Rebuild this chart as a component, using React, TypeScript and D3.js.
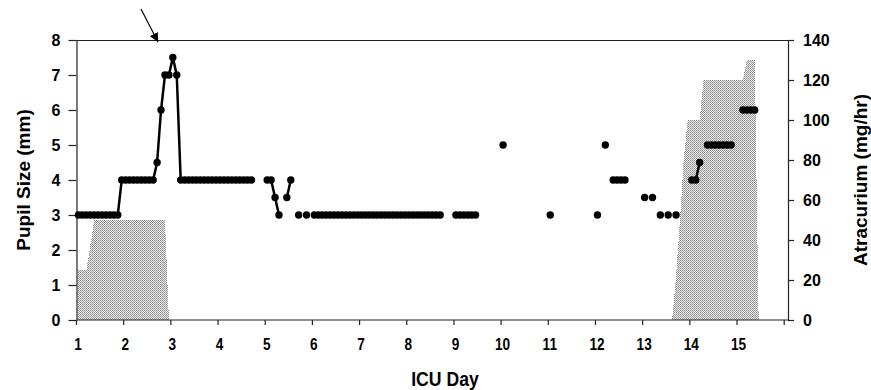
import React, { useEffect, useRef } from "react";
import * as d3 from "d3";

// pupil size (mm), one reading per 2 hours, 12 per ICU day; null = no reading
const _ = null;
const PUPIL_BY_DAY: (number | null)[][] = [
  [3, 3, 3, 3, 3, 3, 3, 3, 3, 3, 3, 4],
  [4, 4, 4, 4, 4, 4, 4, 4, 4.5, 6, 7, 7],
  [7.5, 7, 4, 4, 4, 4, 4, 4, 4, 4, 4, 4],
  [4, 4, 4, 4, 4, 4, 4, 4, 4, _, _, _],
  [4, 4, 3.5, 3, _, 3.5, 4, _, 3, _, 3, _],
  [3, 3, 3, 3, 3, 3, 3, 3, 3, 3, 3, 3],
  [3, 3, 3, 3, 3, 3, 3, 3, 3, 3, 3, 3],
  [3, 3, 3, 3, 3, 3, 3, 3, 3, _, _, _],
  [3, 3, 3, 3, 3, 3, _, _, _, _, _, _],
  [5, _, _, _, _, _, _, _, _, _, _, _],
  [3, _, _, _, _, _, _, _, _, _, _, _],
  [3, _, 5, _, 4, 4, 4, 4, _, _, _, _],
  [3.5, _, 3.5, _, 3, _, 3, _, 3, _, _, _],
  [4, 4, 4.5, _, 5, 5, 5, 5, 5, 5, 5, _],
  [_, 6, 6, 6, 6, _, _, _, _, _, _, _],
];

// atracurium infusion (mg/hr), same 2-hour slots
const ATRACURIUM_BY_DAY: number[][] = [
  [25, 25, 25, 37, 50, 50, 50, 50, 50, 50, 50, 50],
  [50, 50, 50, 50, 50, 50, 50, 50, 50, 50, 50, 0],
  [0, 0, 0, 0, 0, 0, 0, 0, 0, 0, 0, 0],
  [0, 0, 0, 0, 0, 0, 0, 0, 0, 0, 0, 0],
  [0, 0, 0, 0, 0, 0, 0, 0, 0, 0, 0, 0],
  [0, 0, 0, 0, 0, 0, 0, 0, 0, 0, 0, 0],
  [0, 0, 0, 0, 0, 0, 0, 0, 0, 0, 0, 0],
  [0, 0, 0, 0, 0, 0, 0, 0, 0, 0, 0, 0],
  [0, 0, 0, 0, 0, 0, 0, 0, 0, 0, 0, 0],
  [0, 0, 0, 0, 0, 0, 0, 0, 0, 0, 0, 0],
  [0, 0, 0, 0, 0, 0, 0, 0, 0, 0, 0, 0],
  [0, 0, 0, 0, 0, 0, 0, 0, 0, 0, 0, 0],
  [0, 0, 0, 0, 0, 0, 0, 0, 22, 50, 82, 100],
  [100, 100, 100, 120, 120, 120, 120, 120, 120, 120, 120, 120],
  [120, 120, 130, 130, 130, 0, 0, 0, 0, 0, 0, 0],
];

const DAY_LABELS = ["1", "2", "3", "4", "5", "6", "7", "8", "9", "10", "11", "12", "13", "14", "15"];
const PUPIL_TICKS = [0, 1, 2, 3, 4, 5, 6, 7, 8];
const ATRA_TICKS = [0, 20, 40, 60, 80, 100, 120, 140];
const SLOTS_PER_DAY = 12;

const W = 871;
const H = 390;
const BOLD = "'Liberation Sans', Arial, Helvetica, sans-serif";

export default function App() {
  const svgRef = useRef<SVGSVGElement | null>(null);

  useEffect(() => {
    if (!svgRef.current) return;
    const svg = d3.select(svgRef.current);
    svg.selectAll("*").remove();

    const pupil = PUPIL_BY_DAY.flat().map((v, i) => ({ i, v }));
    const atra = ATRACURIUM_BY_DAY.flat().map((v, i) => ({ i, v }));
    const nSlots = DAY_LABELS.length * SLOTS_PER_DAY;

    const left = 76.5;
    const right = 788;
    const top = 40;
    const bottom = 320;

    const x = d3.scaleLinear().domain([0, nSlots]).range([left, 784.2]);
    const cx = (i: number) => x(i + 0.5);
    const yL = d3.scaleLinear().domain([0, 8]).range([bottom, top]);
    const yR = d3.scaleLinear().domain([0, 140]).range([bottom, top]);

    // stipple pattern for the infusion area
    const defs = svg.append("defs");
    const pat = defs
      .append("pattern")
      .attr("id", "stipple")
      .attr("width", 2)
      .attr("height", 2)
      .attr("patternUnits", "userSpaceOnUse");
    pat.append("rect").attr("width", 2).attr("height", 2).attr("fill", "#ececec");
    pat.append("rect").attr("width", 1).attr("height", 1).attr("fill", "#8c8c8c");
    pat.append("rect").attr("x", 1).attr("y", 1).attr("width", 1).attr("height", 1).attr("fill", "#9c9c9c");

    const area = d3
      .area<{ i: number; v: number }>()
      .x((d) => cx(d.i))
      .y0(yR(0))
      .y1((d) => yR(d.v));

    svg
      .append("path")
      .datum(atra)
      .attr("d", area)
      .attr("fill", "url(#stipple)")
      .attr("shape-rendering", "crispEdges");

    // frame: top line
    svg
      .append("line")
      .attr("x1", left)
      .attr("x2", right)
      .attr("y1", top + 0.5)
      .attr("y2", top + 0.5)
      .attr("stroke", "#222")
      .attr("stroke-width", 1.2);

    // left axis
    const gL = svg.append("g").attr("transform", `translate(${left},0)`);
    gL.call(
      d3
        .axisLeft(yL)
        .tickValues(PUPIL_TICKS)
        .tickSize(8)
        .tickPadding(8)
        .tickSizeOuter(0)
    );

    // right axis
    const gR = svg.append("g").attr("transform", `translate(${right},0)`);
    gR.call(
      d3
        .axisRight(yR)
        .tickValues(ATRA_TICKS)
        .tickSize(6)
        .tickPadding(9)
        .tickSizeOuter(0)
    );

    [gL, gR].forEach((g) => {
      g.selectAll("text")
        .attr("font-family", BOLD)
        .attr("font-weight", "bold")
        .attr("font-size", 16)
        .attr("fill", "#000");
      g.selectAll("line, path").attr("stroke", "#222").attr("stroke-width", 1.2);
    });

    // bottom axis
    const dayTicks = d3.range(0, nSlots + 1, SLOTS_PER_DAY);
    const gB = svg.append("g").attr("transform", `translate(0,${bottom})`);
    gB.append("line")
      .attr("x1", left)
      .attr("x2", right)
      .attr("stroke", "#222")
      .attr("stroke-width", 1.2);
    gB.selectAll(".tk")
      .data(dayTicks)
      .enter()
      .append("line")
      .attr("x1", (d) => x(d))
      .attr("x2", (d) => x(d))
      .attr("y1", 0)
      .attr("y2", 5)
      .attr("stroke", "#222")
      .attr("stroke-width", 1.2);
    // condensed bold labels, like the original narrow face
    gB.selectAll(".lb")
      .data(DAY_LABELS)
      .enter()
      .append("text")
      .attr("transform", (_d, k) => `translate(${x(k * SLOTS_PER_DAY) + 1.5},30) scale(0.8,1)`)
      .attr("text-anchor", "middle")
      .attr("font-family", BOLD)
      .attr("font-weight", "bold")
      .attr("font-size", 17)
      .text((d) => d);

    // pupil size line + dots
    const line = d3
      .line<{ i: number; v: number | null }>()
      .defined((d) => d.v != null)
      .x((d) => cx(d.i))
      .y((d) => yL(d.v as number));

    svg
      .append("path")
      .datum(pupil)
      .attr("d", line)
      .attr("fill", "none")
      .attr("stroke", "#000")
      .attr("stroke-width", 2.5);

    svg
      .selectAll(".dot")
      .data(pupil.filter((d) => d.v != null))
      .enter()
      .append("circle")
      .attr("cx", (d) => cx(d.i))
      .attr("cy", (d) => yL(d.v as number))
      .attr("r", 3.7)
      .attr("fill", "#000");

    // axis titles
    svg
      .append("text")
      .attr("transform", `translate(23,${(top + bottom) / 2}) rotate(-90)`)
      .attr("text-anchor", "middle")
      .attr("dominant-baseline", "central")
      .attr("font-family", BOLD)
      .attr("font-weight", "bold")
      .attr("font-size", 19)
      .text("Pupil Size (mm)");

    svg
      .append("text")
      .attr("transform", `translate(860,${(top + bottom) / 2}) rotate(-90)`)
      .attr("text-anchor", "middle")
      .attr("dominant-baseline", "central")
      .attr("font-family", BOLD)
      .attr("font-weight", "bold")
      .attr("font-size", 19)
      .text("Atracurium (mg/hr)");

    svg
      .append("text")
      .attr("transform", "translate(445,386) scale(0.84,1)")
      .attr("text-anchor", "middle")
      .attr("font-family", BOLD)
      .attr("font-weight", "bold")
      .attr("font-size", 21)
      .text("ICU Day");

    // arrow marking the event on day 3
    defs
      .append("marker")
      .attr("id", "head")
      .attr("viewBox", "0 0 10 10")
      .attr("refX", 10)
      .attr("refY", 5)
      .attr("markerWidth", 9)
      .attr("markerHeight", 9)
      .attr("markerUnits", "userSpaceOnUse")
      .attr("orient", "auto")
      .append("path")
      .attr("d", "M0,0 L10,5 L0,10 z")
      .attr("fill", "#000");

    svg
      .append("line")
      .attr("x1", 141)
      .attr("y1", 9)
      .attr("x2", 158)
      .attr("y2", 42)
      .attr("stroke", "#000")
      .attr("stroke-width", 1.2)
      .attr("marker-end", "url(#head)");
  }, []);

  return (
    <svg
      ref={svgRef}
      width={W}
      height={H}
      style={{ position: "absolute", left: 0, top: 0, background: "#fff" }}
    />
  );
}
